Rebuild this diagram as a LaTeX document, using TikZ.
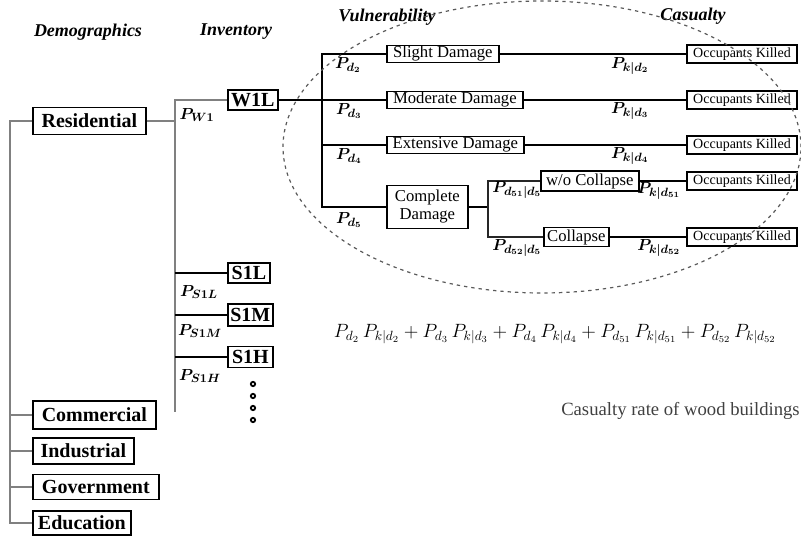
\documentclass[tikz,border=0pt]{standalone}
\usepackage{fontspec}
\setmainfont{Liberation Serif}
\newcommand\pxu[1]{#1*0.75pt}
\begin{document}
\begin{tikzpicture}[x=0.75pt,y=-0.75pt,
  box/.style={draw=black, line width=1.3pt, inner sep=0pt, align=center, fill=white},
  bbox/.style={box, font=\fontsize{15}{17}\selectfont\bfseries},
  dbox/.style={box, font=\fontsize{12.5}{14}\selectfont},
  okbox/.style={box, font=\fontsize{10.5}{12}\selectfont, minimum width=82.5pt, minimum height=13pt},
  hdr/.style={font=\fontsize{13.5}{16}\selectfont\bfseries\itshape},
  lab/.style={font=\fontsize{12.5}{14}\selectfont\boldmath, inner sep=0pt},
  dline/.style={draw=black!85, double=black!50, double distance=0.9pt, line width=0.6pt},
  bline/.style={draw=black, line width=1.5pt},
  tline/.style={draw=black, line width=0.8pt},
  dotmark/.style={fill=white, draw=black, line width=1.4pt},
]
\useasboundingbox (0,0) rectangle (801,541);

% headers
\node[hdr] (hdem) at (88,32) {Demographics};
\node[hdr] (hinv) at (236,32) {Inventory};
\node[hdr] (hvul) at (387,17) {Vulnerability};
\node[hdr] (hcas) at (693,16) {Casualty};

% demographics
\node[bbox, anchor=west, minimum width=\pxu{113}, minimum height=\pxu{27}] (res) at (32,121) {Residential};
\node[bbox, anchor=west, minimum width=\pxu{123}, minimum height=\pxu{28}] (com) at (32,415) {Commercial};
\node[bbox, anchor=west, minimum width=\pxu{101}, minimum height=\pxu{26}] (ind) at (32,451) {Industrial};
\node[bbox, anchor=west, minimum width=\pxu{126}, minimum height=\pxu{25}] (gov) at (32,487) {Government};
\node[bbox, anchor=west, minimum width=\pxu{98}, minimum height=\pxu{24}] (edu) at (32,523) {Education};
\coordinate (ltop) at (10,121);
\coordinate (lbot) at (10,523);
\draw[dline] (res.west) -- (ltop) -- (lbot) -- (edu.west);
\draw[dline] (com.west) -- (com.west -| ltop);
\draw[dline] (ind.west) -- (ind.west -| ltop);
\draw[dline] (gov.west) -- (gov.west -| ltop);

% inventory
\node[bbox, anchor=west, minimum width=\pxu{50}, minimum height=\pxu{20}] (w1l) at (227,100) {W1L};
\node[bbox, anchor=west, minimum width=\pxu{42}, minimum height=\pxu{20}] (s1l) at (227,273) {S1L};
\node[bbox, anchor=west, minimum width=\pxu{45}, minimum height=\pxu{22}] (s1m) at (227,315) {S1M};
\node[bbox, anchor=west, minimum width=\pxu{45}, minimum height=\pxu{21}] (s1h) at (227,357) {S1H};
\coordinate (itop) at (175,100);
\coordinate (ibot) at (175,412);
\draw[dline] (res.east) -- (res.east -| itop);
\draw[dline] (w1l.west) -- (itop) -- (ibot);
\draw[bline] (s1l.west) -- (s1l.west -| itop);
\draw[bline] (s1m.west) -- (s1m.west -| itop);
\draw[bline] (s1h.west) -- (s1h.west -| itop);
\node[lab] (pw1) at (197,115) {$P_{W1}$};
\node[lab] (ps1l) at (199,292) {$P_{S1L}$};
\node[lab] (ps1m) at (200,331) {$P_{S1M}$};
\node[lab] (ps1h) at (200,376) {$P_{S1H}$};
\foreach \yy in {384,396,408,420} \filldraw[dotmark] (253,\yy) circle[radius=1.6pt];

% vulnerability
\node[dbox, anchor=west, minimum width=\pxu{112}, minimum height=\pxu{17}] (sd) at (386,54) {Slight Damage};
\node[dbox, anchor=west, minimum width=\pxu{136}, minimum height=\pxu{17}] (md) at (386,100) {Moderate Damage};
\node[dbox, anchor=west, minimum width=\pxu{137}, minimum height=\pxu{17}] (ed) at (386,145) {Extensive Damage};
\node[dbox, anchor=west, minimum width=\pxu{81}, minimum height=\pxu{43}, font=\fontsize{12.5}{13.5}\selectfont] (cd) at (386,207) {Complete\\Damage};
\coordinate (vtop) at (322,54);
\coordinate (vbot) at (322,207);
\draw[tline] (w1l.east) -- (md.west);
\draw[tline] (sd.west) -- (vtop) -- (vbot) -- (cd.west);
\draw[tline] (ed.west) -- (ed.west -| vtop);
\node[lab] (pd2) at (348,65) {$P_{d_2}$};
\node[lab] (pd3) at (349,111) {$P_{d_3}$};
\node[lab] (pd4) at (349,156) {$P_{d_4}$};
\node[lab] (pd5) at (349,220) {$P_{d_5}$};

% casualty
\node[okbox] (ok1) at (742,54) {Occupants Killed};
\node[okbox] (ok2) at (742,100) {Occupants Killed};
\node[okbox] (ok3) at (742,145) {Occupants Killed};
\node[okbox] (ok4) at (742,181) {Occupants Killed};
\node[okbox] (ok5) at (742,237) {Occupants Killed};
\draw[tline] (sd.east) -- (ok1.west);
\draw[tline] (md.east) -- (ok2.west);
\draw[tline] (ed.east) -- (ok3.west);
\node[lab] (pk2) at (630,66) {$P_{k|d_2}$};
\node[lab] (pk3) at (630,111) {$P_{k|d_3}$};
\node[lab] (pk4) at (630,156) {$P_{k|d_4}$};

% complete damage branch
\node[dbox, anchor=west, minimum width=\pxu{98}, minimum height=\pxu{20}] (wo) at (540,181) {w/o Collapse};
\node[dbox, anchor=west, minimum width=\pxu{65}, minimum height=\pxu{19}] (col) at (543,237) {Collapse};
\coordinate (ctop) at (488,181);
\coordinate (cbot) at (488,237);
\draw[bline] (cd.east) -- (cd.east -| ctop);
\draw[draw=black!85, line width=1.3pt] (wo.west) -- (ctop) -- (cbot) -- (col.west);
\draw[bline] (wo.east) -- (ok4.west);
\draw[tline] (col.east) -- (ok5.west);
\node[lab] (pd51) at (517,190) {$P_{d_{51}|d_5}$};
\node[lab] (pd52) at (517,248) {$P_{d_{52}|d_5}$};
\node[lab] (pk51) at (659,191) {$P_{k|d_{51}}$};
\node[lab] (pk52) at (659,248) {$P_{k|d_{52}}$};

% formula and caption
\node[font=\fontsize{14.5}{17}\selectfont] (form) at (555,334)
  {$P_{d_2}\,P_{k|d_2}+P_{d_3}\,P_{k|d_3}+P_{d_4}\,P_{k|d_4}+P_{d_{51}}\,P_{k|d_{51}}+P_{d_{52}}\,P_{k|d_{52}}$};
\node[font=\fontsize{14}{16}\selectfont, text=black!75, anchor=east, inner sep=0pt] (cap) at (800,411) {Casualty rate of wood buildings};

% dashed ellipse
\draw[dash pattern=on 2.5pt off 3pt, line width=0.9pt, draw=black!65] (542,147) ellipse [x radius=194.25pt, y radius=109.5pt];
\end{tikzpicture}
\end{document}
